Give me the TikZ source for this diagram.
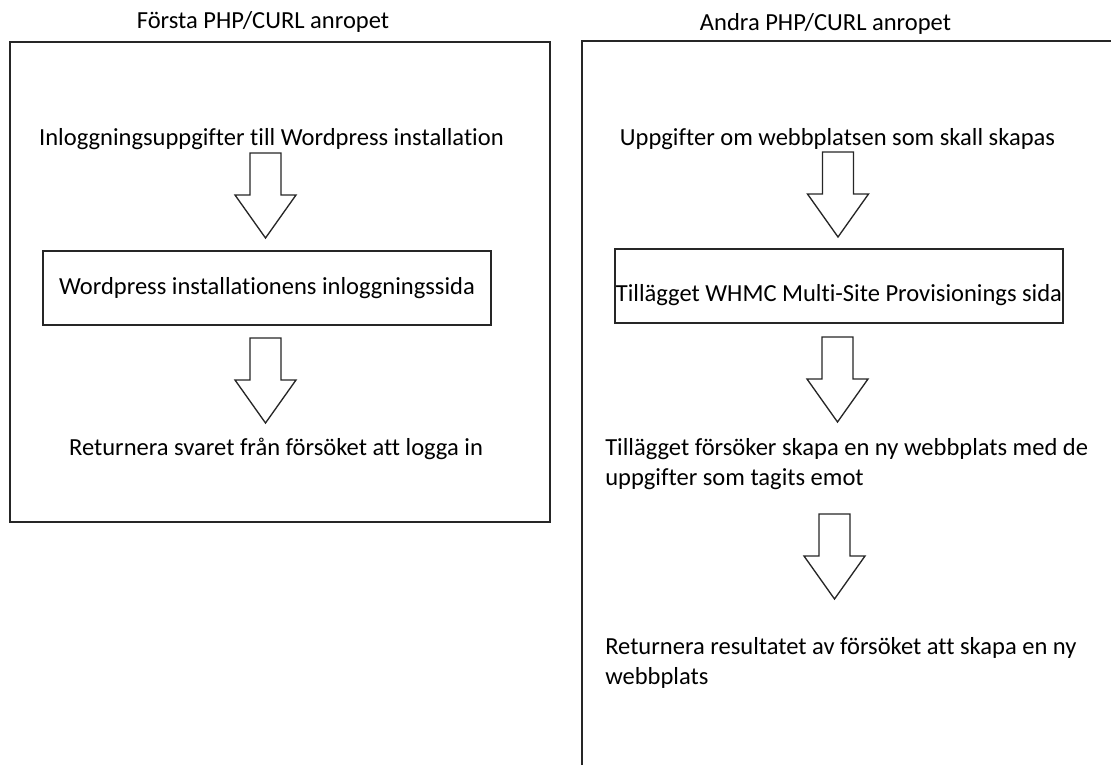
\documentclass[tikz,border=0pt]{standalone}
\usepackage{fontspec}
\setmainfont[Ligatures=NoCommon]{Carlito}
\usepackage{tikz}

\begin{document}
\begin{tikzpicture}[x=0.75pt, y=-0.75pt,
    every node/.style={font=\fontsize{18.4}{22.5}\selectfont, inner sep=0pt},
    frame/.style={draw=black!85, line width=1pt},
    stepbox/.style={frame, minimum width=336pt, minimum height=55.5pt},
    pics/downarrow/.style={code={
        \draw[frame, fill=white] (-15.5,0) -- (15.5,0) -- (15.5,42) -- (30.5,42)
            -- (0,85) -- (-30.5,42) -- (-15.5,42) -- cycle;}}]
    \useasboundingbox (0,0) rectangle (1111,765);
    % first call
    \draw[frame] (10,42) rectangle (550,522);
    \node (forsta) at (263,22) {Första PHP/CURL anropet};
    \node (inlogg) at (271.5,139) {Inloggningsuppgifter till Wordpress installation};
    \pic at (265.5,153) {downarrow};
    \node[stepbox] (wpsida) at (267,288) {Wordpress installationens inloggningssida};
    \pic at (265.5,338) {downarrow};
    \node (svar) at (276,449) {Returnera svaret från försöket att logga in};
    % second call
    \draw[frame] (582,765) -- (582,41) -- (1111,41);
    \node (andra) at (825.5,24) {Andra PHP/CURL anropet};
    \node (uppgifter) at (837.5,139) {Uppgifter om webbplatsen som skall skapas};
    \pic at (838,152) {downarrow};
    \node[stepbox, text height=23pt, text depth=0pt] (whmc) at (839,286) {Tillägget WHMC Multi-Site Provisionings sida};
    \pic at (837.5,337) {downarrow};
    \node[anchor=west, align=left] (forsok) at (605,464) {Tillägget försöker skapa en ny webbplats med de\\uppgifter som tagits emot};
    \pic at (834.5,514) {downarrow};
    \node[anchor=west, align=left] (resultat) at (605,662.5) {Returnera resultatet av försöket att skapa en ny\\webbplats};
\end{tikzpicture}
\end{document}
